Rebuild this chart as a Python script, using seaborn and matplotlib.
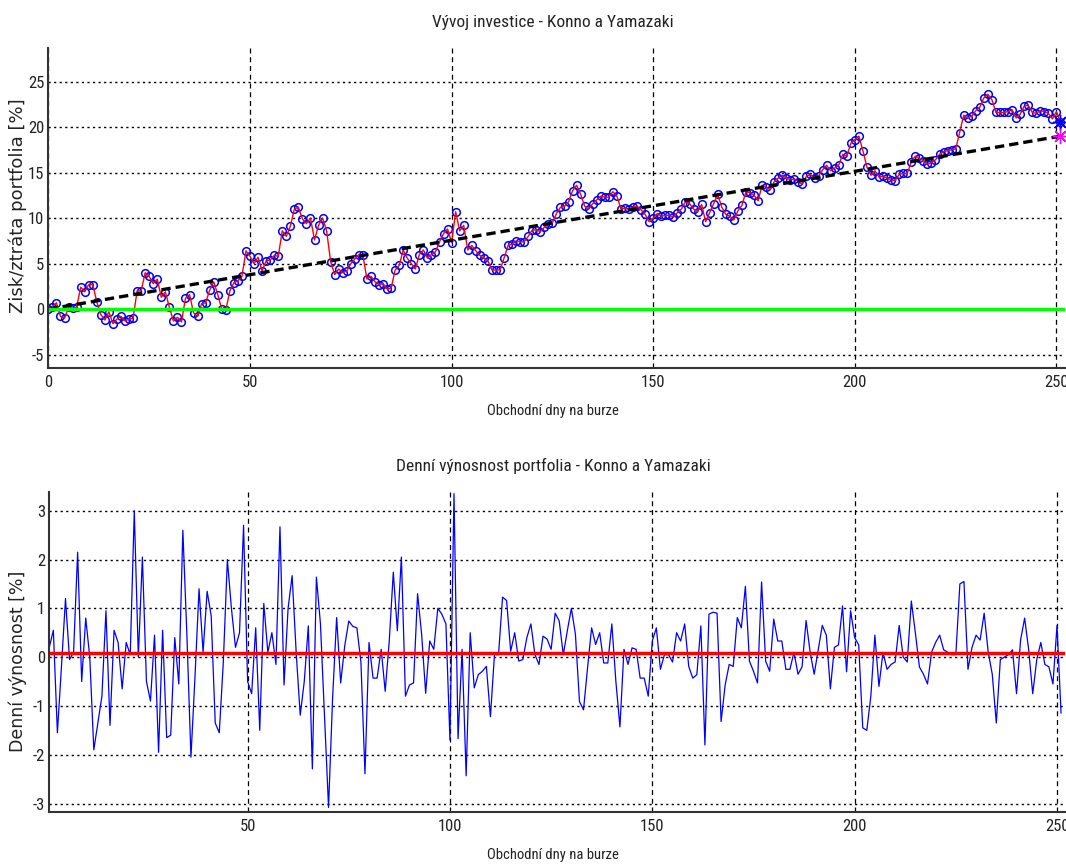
import logging

import matplotlib
matplotlib.use("Agg")
import matplotlib.pyplot as plt
import numpy as np
import pandas as pd
import seaborn as sns

logging.getLogger("matplotlib.font_manager").setLevel(logging.ERROR)

sns.set_style("white")
NARROW = ["Liberation Sans Narrow", "Arial Narrow", "Roboto Condensed",
          "IBM Plex Sans Condensed", "DejaVu Sans"]
plt.rcParams["font.family"] = NARROW
plt.rcParams["axes.unicode_minus"] = False

# --- data -----------------------------------------------------------------
# cumulative profit/loss of the portfolio [%], trading days 0..251
days = list(range(0, 252))
cumulative = [
    0.0, 0.2, 0.7, -0.8, -1.0, 0.2, 0.1, 0.2, 2.4, 1.9, 2.7, 2.7,
    0.8, -0.6, -1.2, -0.3, -1.6, -1.1, -0.8, -1.3, -1.1, -1.0, 2.0, 2.0,
    4.0, 3.6, 2.8, 3.3, 1.3, 1.9, 0.2, -1.3, -0.9, -1.4, 1.2, 1.6,
    -0.4, -0.8, 0.6, 0.7, 2.1, 3.0, 1.6, 0.0, -0.1, 2.0, 2.9, 3.1,
    3.6, 6.4, 5.8, 5.0, 5.7, 4.2, 5.3, 5.4, 5.9, 5.8, 8.6, 8.0,
    9.1, 11.0, 11.2, 9.9, 9.4, 10.0, 7.6, 9.2, 10.0, 8.6, 5.2, 3.8,
    4.4, 4.0, 4.2, 5.0, 5.5, 6.0, 5.9, 3.3, 3.6, 3.0, 2.7, 2.8,
    2.2, 2.3, 4.3, 4.8, 6.5, 5.6, 5.0, 4.4, 6.0, 6.5, 5.6, 6.0,
    6.3, 7.4, 8.3, 8.8, 7.3, 10.7, 8.6, 9.2, 6.5, 7.0, 6.4, 5.9,
    5.6, 5.3, 4.3, 4.3, 4.3, 5.6, 7.0, 7.1, 7.5, 7.4, 7.4, 8.0,
    8.7, 8.7, 8.5, 9.0, 9.3, 9.5, 10.5, 11.2, 11.3, 11.8, 13.0, 13.6,
    12.6, 11.3, 11.0, 11.6, 12.0, 12.4, 12.3, 12.3, 12.9, 12.4, 11.0, 11.1,
    11.0, 11.2, 11.3, 10.9, 10.4, 9.6, 10.0, 10.5, 10.2, 10.3, 10.3, 10.1,
    10.6, 11.0, 11.8, 11.6, 11.0, 10.7, 11.5, 9.6, 10.6, 11.6, 12.6, 11.2,
    10.4, 10.2, 9.8, 10.8, 11.4, 12.9, 12.8, 12.5, 11.9, 13.6, 13.4, 13.1,
    14.0, 14.4, 14.7, 14.4, 14.2, 14.3, 14.0, 13.7, 14.6, 14.8, 14.4, 14.6,
    15.3, 15.8, 15.2, 15.5, 15.8, 17.0, 16.8, 18.2, 18.6, 19.0, 17.4, 15.6,
    14.7, 15.2, 14.5, 14.6, 14.4, 14.2, 14.1, 14.8, 14.9, 14.9, 16.2, 16.8,
    16.6, 16.3, 15.9, 16.1, 16.4, 17.0, 17.3, 17.4, 17.5, 17.6, 19.4, 21.3,
    21.0, 21.2, 21.8, 22.2, 23.2, 23.6, 23.0, 21.6, 21.6, 21.6, 21.7, 21.9,
    21.0, 21.4, 22.3, 22.4, 21.6, 21.5, 21.8, 21.7, 21.5, 20.9, 21.7, 20.5,
]

# expected growth line and break-even line
trend_days = [0, 251]
trend_values = [0.0, 19.0]
baseline_days = [0, 252]
baseline_values = [0.0, 0.0]
final_day = 251
final_value = 20.5
expected_final = 19.0

# daily return of the portfolio [%], trading days 1..251
return_days = list(range(1, 252))
daily_returns = [
    0.20, 0.55, -1.55, -0.20, 1.20, -0.05, 0.10, 2.15, -0.50, 0.80,
    0.00, -1.90, -1.35, -0.80, 0.95, -1.40, 0.55, 0.30, -0.65, 0.30,
    0.05, 3.00, 0.00, 2.05, -0.50, -0.90, 0.45, -1.95, 0.55, -1.65,
    -1.60, 0.40, -0.55, 2.60, 0.45, -2.05, -0.40, 1.40, 0.10, 1.35,
    0.85, -1.35, -1.55, -0.10, 2.00, 1.00, 0.20, 0.50, 2.70, -0.50,
    -0.75, 0.60, -1.50, 1.10, 0.10, 0.50, -0.15, 2.67, -0.57, 1.00,
    1.67, 0.10, -1.19, -0.50, 0.64, -2.29, 1.64, 0.68, -1.20, -3.08,
    -0.84, 0.81, -0.53, 0.23, 0.74, 0.63, 0.60, -0.10, -2.39, 0.30,
    -0.43, -0.43, 0.16, -0.70, 0.33, 1.74, 0.54, 2.05, -0.80, -0.57,
    -0.53, 1.30, 0.47, -0.74, 0.33, 0.16, 1.00, 0.88, 0.68, -1.70,
    3.35, -1.67, 0.16, -2.43, 0.50, -0.63, -0.36, -0.29, -0.19, -1.22,
    0.05, 0.05, 1.23, 1.16, 0.12, 0.50, -0.08, -0.05, 0.40, 0.68,
    0.05, -0.15, 0.43, 0.37, 0.16, 0.90, 0.74, 0.05, 0.54, 1.00,
    0.47, -0.91, -1.08, -0.22, 0.60, 0.26, 0.50, -0.12, -0.12, 0.68,
    -0.50, -1.43, 0.16, -0.15, 0.19, 0.16, -0.43, -0.43, -0.80, 0.33,
    0.60, -0.25, 0.05, 0.05, -0.10, 0.50, 0.33, 0.68, -0.19, -0.43,
    -0.36, 0.64, -1.80, 0.88, 0.92, 0.90, -1.32, -0.57, -0.15, -0.19,
    0.81, 0.60, 1.45, -0.08, -0.29, -0.53, 1.54, -0.08, -0.29, 0.78,
    0.33, 0.33, -0.25, -0.25, 0.10, -0.35, -0.20, 0.75, 0.10, -0.35,
    0.15, 0.65, 0.45, -0.65, 0.20, 0.25, 1.05, -0.30, 0.95, 0.40,
    0.25, -1.45, -1.50, -0.80, 0.45, -0.60, 0.10, -0.25, -0.15, -0.10,
    0.65, 0.00, -0.10, 1.15, 0.50, -0.20, -0.35, -0.55, 0.10, 0.30,
    0.45, 0.15, 0.10, 0.05, 0.05, 1.50, 1.55, -0.25, 0.20, 0.45,
    0.35, 0.90, 0.10, -0.35, -1.35, -0.05, 0.00, 0.05, 0.15, -0.75,
    0.35, 0.80, 0.15, -0.75, -0.05, 0.30, -0.15, -0.20, -0.55, 0.65,
    -1.15,
]
mean_days = [1, 252]
mean_values = [0.0757, 0.0757]

top_xticks = [0, 50, 100, 150, 200, 250]
top_yticks = [-5, 0, 5, 10, 15, 20, 25]
bottom_xticks = [50, 100, 150, 200, 250]
bottom_yticks = [-3, -2, -1, 0, 1, 2, 3]

top_title = "Vývoj investice - Konno a Yamazaki"
bottom_title = "Denní výnosnost portfolia - Konno a Yamazaki"
x_label = "Obchodní dny na burze"
top_ylabel = "Zisk/ztráta portfolia [%]"
bottom_ylabel = "Denní výnosnost [%]"

portfolio = pd.DataFrame({"day": days, "value": cumulative})
returns = pd.DataFrame({"day": return_days, "ret": daily_returns})

# --- figure -----------------------------------------------------------------
W, H = 1066, 865
fig = plt.figure(figsize=(W / 100, H / 100), dpi=100)
ax1 = fig.add_axes([48.4 / W, (H - 368.3) / H, 1016.1 / W, 320.0 / H])
ax2 = fig.add_axes([49.3 / W, (H - 812.3) / H, 1015.8 / W, 320.6 / H])

text_color = "#222222"


def style_axes(ax, xticks, yticks, xlim, ylim):
    ax.set_xlim(*xlim)
    ax.set_ylim(*ylim)
    ax.set_xticks(xticks)
    ax.set_yticks(yticks)
    ax.set_xticklabels([str(t) for t in xticks])
    ax.set_yticklabels([str(t) for t in yticks])
    ax.grid(True, axis="y", color="black", linestyle=(0, (1.6, 2.4)), linewidth=1.0)
    ax.grid(True, axis="x", color="black", linestyle=(0, (4.0, 3.0)), linewidth=0.9)
    ax.set_axisbelow(True)
    for side in ("top", "right"):
        ax.spines[side].set_visible(False)
    for side in ("left", "bottom"):
        ax.spines[side].set_color("#333333")
        ax.spines[side].set_linewidth(1.5)
    ax.tick_params(direction="in", length=8, width=1.1, color="black",
                   labelcolor=text_color, labelsize=12)
    ax.tick_params(axis="x", pad=5)
    ax.tick_params(axis="y", pad=3)
    ax.set_xlabel("")
    ax.set_ylabel("")


# upper panel: cumulative result
sns.lineplot(data=portfolio, x="day", y="value", ax=ax1, linestyle="",
             marker="o", markersize=5.5, markerfacecolor="none",
             markeredgecolor="blue", markeredgewidth=1.1, errorbar=None)
sns.lineplot(data=portfolio, x="day", y="value", ax=ax1, color="red",
             linewidth=1.0, errorbar=None)
sns.lineplot(x=trend_days, y=trend_values, ax=ax1, color="black",
             linewidth=2.4, linestyle=(0, (2.8, 1.5)), errorbar=None)
sns.lineplot(x=baseline_days, y=baseline_values, ax=ax1, color=(0, 1, 0),
             linewidth=2.5, errorbar=None)
ax1.plot([final_day], [final_value], linestyle="", marker=(8, 2, 0),
         markersize=11, color="blue", markeredgewidth=1.0, clip_on=False)
ax1.plot([final_day], [expected_final], linestyle="", marker=(8, 2, 0),
         markersize=11, color="magenta", markeredgewidth=1.0, clip_on=False)
style_axes(ax1, top_xticks, top_yticks, (0, 252), (-6.5, 28.65))

# lower panel: daily returns
sns.lineplot(data=returns, x="day", y="ret", ax=ax2, color="blue",
             linewidth=0.9, errorbar=None)
sns.lineplot(x=mean_days, y=mean_values, ax=ax2, color="red",
             linewidth=2.5, errorbar=None)
style_axes(ax2, bottom_xticks, bottom_yticks, (1, 252), (-3.18, 3.39))

# titles and labels
fig.text(553 / W, 1 - 22 / H, top_title, ha="center", va="center",
         fontsize=12.5, color=text_color)
fig.text(553 / W, 1 - 411 / H, x_label, ha="center", va="center",
         fontsize=10.5, color=text_color)
fig.text(553 / W, 1 - 466 / H, bottom_title, ha="center", va="center",
         fontsize=12.5, color=text_color)
fig.text(553 / W, 1 - 855 / H, x_label, ha="center", va="center",
         fontsize=10.5, color=text_color)
fig.text(18 / W, 1 - 206 / H, top_ylabel, ha="center", va="center",
         rotation=90, fontsize=13, color=text_color,
         family=["DejaVu Sans"])
fig.text(18 / W, 1 - 661 / H, bottom_ylabel, ha="center", va="center",
         rotation=90, fontsize=12.5, color=text_color,
         family=["DejaVu Sans"])

fig.savefig("out.png", dpi=100)
